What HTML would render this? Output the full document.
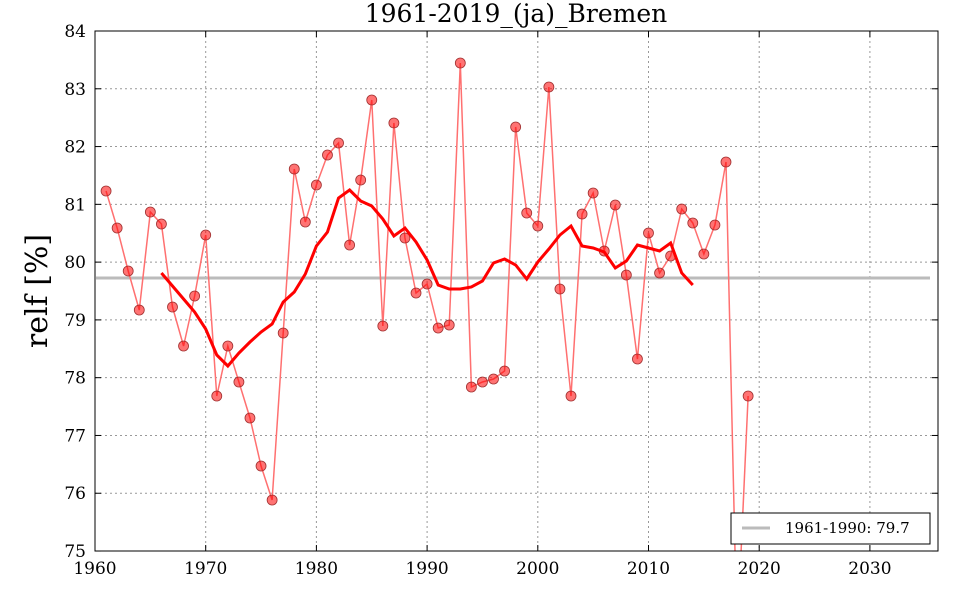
<!DOCTYPE html>
<html><head><meta charset="utf-8"><style>
html,body{margin:0;background:#fff;overflow:hidden;width:960px;height:600px;}
svg{display:block;font-family:"DejaVu Serif","Liberation Serif",serif;}
</style></head><body>
<svg id="s" width="960" height="600" xmlns="http://www.w3.org/2000/svg">
<rect width="960" height="600" fill="#fff"/>
<g id="grid"></g>
<line x1="96" y1="278" x2="930" y2="278" stroke="#bbb" stroke-width="3"/>
<g id="rawg"></g>
<g id="pts"></g>
<polyline id="ma" fill="none" stroke="#f00" stroke-width="3"/>
<rect x="95" y="31" width="843" height="520" fill="none" stroke="#000" stroke-width="1"/>
<g id="lab" font-size="17"></g>
<text x="516" y="22" font-size="25" text-anchor="middle">1961-2019_(ja)_Bremen</text>
<text transform="translate(47,291) rotate(-90)" font-size="30" text-anchor="middle">relf [%]</text>
<rect x="731" y="513" width="199" height="31" fill="#fff" stroke="#000"/>
<line x1="742" y1="528" x2="770" y2="528" stroke="#bbb" stroke-width="3"/>
<text x="785" y="533" font-size="15">1961-1990: 79.7</text>
</svg>
<script>
const X=y=>95+(y-1960)*11.07, Y=v=>31+(84-v)*57.78;
let g='',l='';
for(let i=0;i<=7;i++){let x=X(1960+i*10);if(i>0)g+=`<line x1="${x}" y1="31" x2="${x}" y2="551" stroke="#999" stroke-dasharray="2,3"/>`;
g+=`<line x1="${x}" y1="551" x2="${x}" y2="545" stroke="#000"/><line x1="${x}" y1="31" x2="${x}" y2="37" stroke="#000"/>`;
l+=`<text x="${x}" y="574" text-anchor="middle">${1960+i*10}</text>`;}
for(let v=75;v<=84;v++){let y=Y(v);if(v>75&&v<84)g+=`<line x1="95" y1="${y}" x2="938" y2="${y}" stroke="#999" stroke-dasharray="2,3"/>`;
g+=`<line x1="95" y1="${y}" x2="101" y2="${y}" stroke="#000"/><line x1="938" y1="${y}" x2="932" y2="${y}" stroke="#000"/>`;
l+=`<text x="86" y="${y+6}" text-anchor="end">${v}</text>`;}
document.getElementById('grid').innerHTML=g;document.getElementById('lab').innerHTML=l;
const d=[191,228,271,310,212,224,307,346,296,235,396,346,382,418,466,500,333,169,222,185,155,143,245,180,100,326,123,238,293,284,328,325,63,387,382,379,371,127,213,226,87,289,396,214,193,251,205,275,359,233,273,256,209,223,254,225,162,640,396];
let p=[],c='';
d.forEach((y,i)=>{let x=X(1961+i);if(y<551){p.push(x+','+y);c+=`<circle cx="${x}" cy="${y}" r="5" fill="#ff0000" fill-opacity="0.55" stroke="#a03030" stroke-width="0.8"/>`;}});
// split at 2018 (index 57)
const x17=X(2017),x18=X(2018),x19=X(2019);
const xa=x17+(551-162)/(640-162)*(x18-x17);
const xb=x18+(640-551)/(640-396)*(x19-x18);
const p1=p.slice(0,57).concat([xa+',551']);
const p2=[xb+',551',x19+',396'];
document.getElementById('rawg').innerHTML=`<polyline points="${p1.join(' ')}" fill="none" stroke="#ff7070" stroke-width="1.5"/><polyline points="${p2.join(' ')}" fill="none" stroke="#ff7070" stroke-width="1.5"/>`;
document.getElementById('pts').innerHTML=c;
const m=[273,286,299,312,329,355,366,353,342,332,324,302,292,274,246,232,198,190,201,206,219,236,228,242,260,285,289,289,287,281,263,259,265,279,262,249,235,226,246,248,252,268,261,245,248,251,243,273,285];
document.getElementById('ma').setAttribute('points',m.map((y,i)=>X(1966+i)+','+y).join(' '));
</script>
</body></html>
